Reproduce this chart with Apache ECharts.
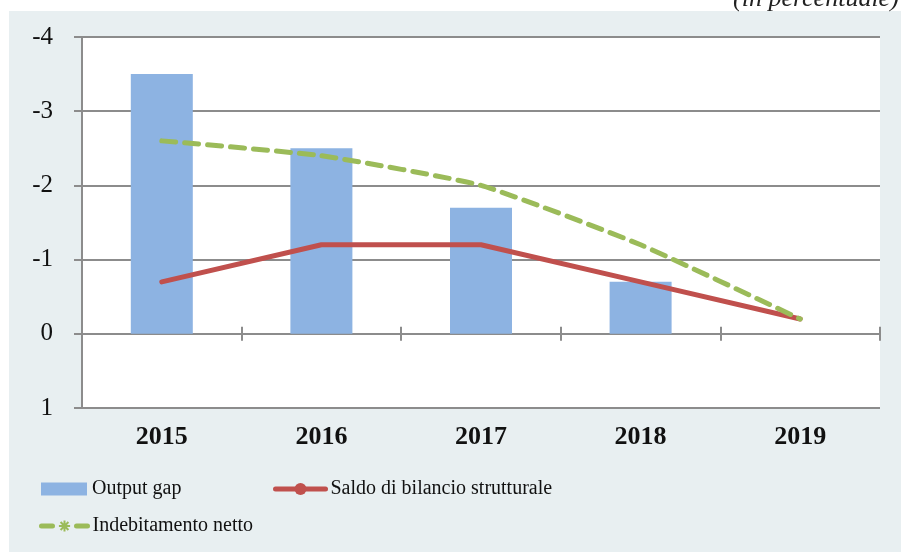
<!DOCTYPE html>
<html>
<head>
<meta charset="utf-8">
<script src="https://cdn.jsdelivr.net/npm/echarts@6/dist/echarts.min.js"></script>
<style>
  html, body { margin: 0; padding: 0; background: #ffffff; }
  #chart { width: 901px; height: 552px; }
</style>
</head>
<body>
<div id="chart"></div>
<script>
var years = ['2015', '2016', '2017', '2018', '2019'];
var outputGap = [-3.5, -2.5, -1.7, -0.7, null];
var saldoStrutturale = [-0.7, -1.2, -1.2, -0.7, -0.2];
var indebitamento = [-2.6, -2.4, -2.0, -1.2, -0.2];
var yTicks = [-4, -3, -2, -1, 0, 1];

var serif = '"Liberation Serif", "Times New Roman", serif';
var gridGray = '#8c8c8c';
// asterisco per la legenda
var star = 'path://M5,0 L5,10 M0,5 L10,5 M1.5,1.5 L8.5,8.5 M8.5,1.5 L1.5,8.5';

var myChart = echarts.init(document.getElementById('chart'));

var legendText = { fontFamily: serif, fontSize: 20, color: '#111' };

var option = {
  animation: false,
  backgroundColor: '#ffffff',
  graphic: [
    { type: 'rect', z: -10, shape: { x: 9, y: 11, width: 892, height: 541 }, style: { fill: '#e8eff1' } },
    { type: 'text', left: 733, top: -14, style: { text: '(in percentuale)', font: 'italic 26px ' + serif, fill: '#222' } }
  ],
  grid: {
    left: 82, right: 21, top: 37, bottom: 144,
    show: true, backgroundColor: '#ffffff', borderWidth: 0
  },
  legend: [
    {
      left: 36, top: 474, itemWidth: 46, itemHeight: 13,
      data: [{ name: 'Output gap', icon: 'rect' }],
      textStyle: legendText
    },
    {
      left: 268, top: 474, itemWidth: 50, itemHeight: 15,
      lineStyle: { width: 5 },
      data: ['Saldo di bilancio strutturale'],
      textStyle: legendText
    },
    {
      left: 34, top: 511, itemWidth: 46, itemHeight: 14,
      lineStyle: { width: 5, type: [11, 24], cap: 'round' },
      data: ['Indebitamento netto'],
      textStyle: legendText
    }
  ],
  xAxis: [
    {
      type: 'category', data: years, position: 'bottom',
      axisLine: { show: false, onZero: false },
      axisTick: { show: false },
      axisLabel: { margin: 16, fontFamily: serif, fontSize: 26, fontWeight: 'bold', color: '#111' }
    },
    {
      type: 'category', data: years, position: 'bottom',
      axisLine: { show: true, onZero: true, onZeroAxisIndex: 0, lineStyle: { color: gridGray, width: 2 } },
      axisTick: { show: true, length: 7, inside: false, lineStyle: { color: gridGray, width: 2 } },
      axisLabel: { show: false }
    },
    {
      type: 'category', data: years, position: 'bottom',
      axisLine: { show: false, onZero: true, onZeroAxisIndex: 0 },
      axisTick: { show: true, length: 7, inside: true, lineStyle: { color: gridGray, width: 2 } },
      axisLabel: { show: false }
    }
  ],
  yAxis: {
    type: 'value', inverse: true,
    min: yTicks[0], max: yTicks[yTicks.length - 1], interval: 1,
    axisLine: { show: true, lineStyle: { color: gridGray, width: 2 } },
    axisTick: { show: true, length: 8, lineStyle: { color: gridGray, width: 2 } },
    axisLabel: { margin: 29, fontFamily: serif, fontSize: 25, color: '#111' },
    splitLine: { show: true, lineStyle: { color: gridGray, width: 2 } }
  },
  series: [
    {
      name: 'Output gap', type: 'bar', data: outputGap,
      barWidth: 62, itemStyle: { color: '#8db3e2' }
    },
    {
      name: 'Saldo di bilancio strutturale', type: 'line', data: saldoStrutturale,
      symbol: 'circle', symbolSize: 12, showSymbol: false,
      itemStyle: { color: '#c0504d' },
      lineStyle: { color: '#c0504d', width: 5, cap: 'round' }
    },
    {
      name: 'Indebitamento netto', type: 'line', data: indebitamento,
      symbol: star, symbolSize: 12, showSymbol: false, smooth: 0.15,
      itemStyle: { color: '#9bbb59', borderColor: '#9bbb59', borderWidth: 2.5 },
      lineStyle: { color: '#9bbb59', width: 5, type: [14, 9], cap: 'round' }
    }
  ]
};

option && myChart.setOption(option);
</script>
</body>
</html>
